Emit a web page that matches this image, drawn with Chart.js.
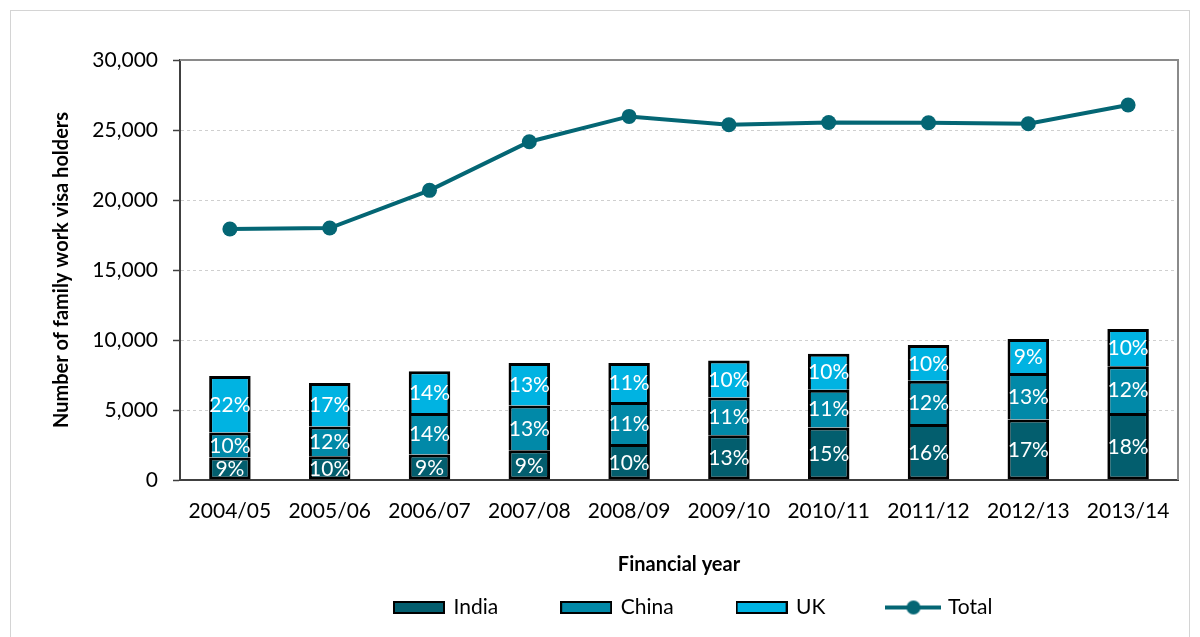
<!DOCTYPE html>
<html>
<head>
<meta charset="utf-8">
<script src="https://cdn.jsdelivr.net/npm/chart.js@4.4.1/dist/chart.umd.min.js"></script>
<style>
  html, body { margin: 0; padding: 0; background: #fff; }
  #wrap { width: 1200px; height: 637px; }
</style>
</head>
<body>
<div id="wrap"><canvas id="visaChart" width="1200" height="637"></canvas></div>
<script>
const years = ['2004/05', '2005/06', '2006/07', '2007/08', '2008/09', '2009/10', '2010/11', '2011/12', '2012/13', '2013/14'];
const india = [1610, 1700, 1830, 2120, 2570, 3200, 3750, 4000, 4330, 4790];
const china = [1790, 2130, 2960, 3210, 3000, 2700, 2700, 3090, 3310, 3330];
const uk = [4030, 3100, 2970, 3030, 2790, 2640, 2570, 2550, 2430, 2670];
const total = [17930, 18000, 20690, 24160, 25970, 25380, 25540, 25520, 25450, 26790];
const indiaPct = ['9%', '10%', '9%', '9%', '10%', '13%', '15%', '16%', '17%', '18%'];
const chinaPct = ['10%', '12%', '14%', '13%', '11%', '11%', '11%', '12%', '13%', '12%'];
const ukPct = ['22%', '17%', '14%', '13%', '11%', '10%', '10%', '10%', '9%', '10%'];

const FONT = 'Lato, "Open Sans", sans-serif';
const colIndia = '#035e6e';
const colChina = '#0189a8';
const colUK = '#00b3e2';
const colTotal = '#046674';
const upperBorder = { top: 3, left: 3, right: 3, bottom: 0 };

// legend marker images
function boxMarker(fill) {
  const c = document.createElement('canvas');
  c.width = 52; c.height = 13;
  const g = c.getContext('2d');
  g.fillStyle = fill;
  g.fillRect(1, 1, 50, 11);
  g.strokeStyle = '#000';
  g.lineWidth = 2;
  g.strokeRect(1, 1, 50, 11);
  return c;
}
function lineMarker(col) {
  const c = document.createElement('canvas');
  c.width = 56; c.height = 16;
  const g = c.getContext('2d');
  g.strokeStyle = col;
  g.lineWidth = 4;
  g.beginPath(); g.moveTo(0, 8); g.lineTo(56, 8); g.stroke();
  g.fillStyle = col;
  g.beginPath(); g.arc(28, 8, 7, 0, Math.PI * 2); g.fill();
  return c;
}
const markers = [boxMarker(colIndia), boxMarker(colChina), boxMarker(colUK), lineMarker(colTotal)];

const pctLabels = {
  id: 'pctLabels',
  afterDatasetsDraw(chart) {
    const ctx = chart.ctx;
    const sets = [indiaPct, chinaPct, ukPct];
    ctx.save();
    ctx.fillStyle = '#fff';
    ctx.font = '21px ' + FONT;
    ctx.textAlign = 'center';
    ctx.textBaseline = 'middle';
    sets.forEach((labels, di) => {
      chart.getDatasetMeta(di).data.forEach((bar, i) => {
        ctx.fillText(labels[i], bar.x, (bar.y + bar.base) / 2 + 1);
      });
    });
    ctx.restore();
  }
};

const frame = {
  id: 'frame',
  beforeDraw(chart) {
    const ctx = chart.ctx;
    ctx.save();
    ctx.strokeStyle = '#d4d4d4';
    ctx.lineWidth = 1;
    ctx.strokeRect(10.5, 10.5, 1179, 640);
    ctx.restore();
  },
  beforeDatasetsDraw(chart) {
    const a = chart.chartArea;
    const ctx = chart.ctx;
    ctx.save();
    ctx.strokeStyle = '#8a8a8a';
    ctx.lineWidth = 2;
    ctx.beginPath();
    ctx.moveTo(a.left, a.top);
    ctx.lineTo(a.right, a.top);
    ctx.lineTo(a.right, a.bottom);
    ctx.stroke();
    ctx.restore();
  },
  afterLayout(chart) {
    const lg = chart.legend;
    lg.left = 331; lg.right = 1200;
    lg.top = 533;
  }
};

new Chart(document.getElementById('visaChart'), {
  type: 'bar',
  data: {
    labels: years,
    datasets: [
      { label: 'India', data: india, backgroundColor: colIndia, stack: 'bars', borderWidth: 3 },
      { label: 'China', data: china, backgroundColor: colChina, stack: 'bars', borderWidth: upperBorder },
      { label: 'UK', data: uk, backgroundColor: colUK, stack: 'bars', borderWidth: upperBorder },
      {
        type: 'line', label: 'Total', data: total, stack: 'total',
        borderColor: colTotal, backgroundColor: colTotal, borderWidth: 4,
        pointRadius: 7.5, pointHoverRadius: 7.5, pointBackgroundColor: colTotal,
        pointBorderWidth: 0, tension: 0, order: -1
      }
    ]
  },
  options: {
    responsive: false,
    animation: false,
    events: [],
    datasets: {
      bar: {
        borderColor: '#000', borderSkipped: false,
        barPercentage: 0.52, categoryPercentage: 0.8
      }
    },
    layout: { padding: { left: 45, right: 22, top: 60, bottom: 0 } },
    plugins: {
      tooltip: { enabled: false },
      legend: {
        position: 'bottom',
        align: 'start',
        labels: {
          usePointStyle: true,
          pointStyleWidth: 48,
          padding: 64,
          color: '#000',
          font: { family: FONT, size: 21 },
          generateLabels(chart) {
            return chart.data.datasets.map((ds, i) => ({
              text: ds.label,
              pointStyle: markers[i],
              fillStyle: 'transparent',
              strokeStyle: 'transparent',
              lineWidth: 0,
              datasetIndex: i,
              hidden: false
            }));
          }
        }
      }
    },
    scales: {
      x: {
        stacked: true,
        afterFit(s) { s.height = 62; },
        grid: { display: false, drawTicks: false },
        border: { display: true, color: '#404040', width: 2 },
        ticks: { color: '#000', padding: 19, font: { family: FONT, size: 21 }, maxRotation: 0 },
        title: {
          display: true, text: 'Financial year', color: '#000',
          font: { family: FONT, size: 20, weight: 'bold' },
          padding: { top: 0, bottom: -35 }
        }
      },
      y: {
        stacked: true,
        min: 0, max: 30000,
        afterFit(s) { s.width = 135; },
        grid: {
          color: ctx => (ctx.tick && (ctx.tick.value === 0 || ctx.tick.value === 30000)) ? 'rgba(0,0,0,0)' : '#cfcfcf',
          lineWidth: 1,
          tickColor: '#404040',
          tickLength: 7,
          tickWidth: 1.5
        },
        border: { display: true, color: '#404040', width: 2, dash: [3, 3] },
        ticks: {
          stepSize: 5000, color: '#000', padding: 15,
          font: { family: FONT, size: 21 },
          callback: v => v.toLocaleString('en-US')
        },
        title: {
          display: true, text: 'Number of family work visa holders', color: '#000',
          font: { family: FONT, size: 20, weight: 'bold' },
          padding: { top: 5, bottom: 0 }
        }
      }
    }
  },
  plugins: [pctLabels, frame]
});
</script>
</body>
</html>
